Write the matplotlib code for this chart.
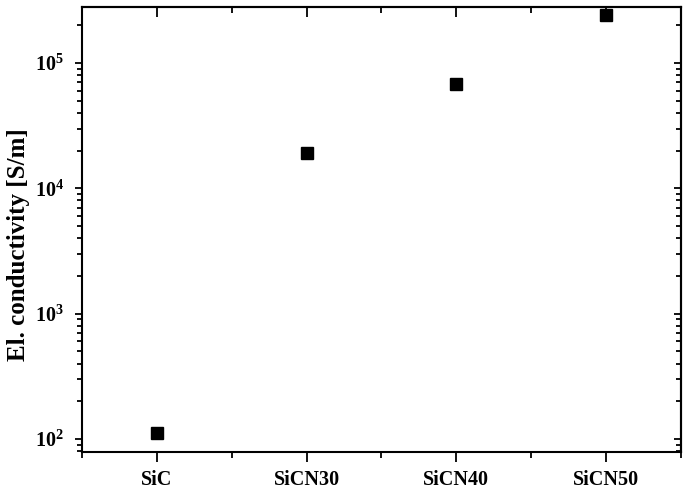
import numpy as np
import matplotlib
matplotlib.use("Agg")
import matplotlib.pyplot as plt
from matplotlib.ticker import LogLocator, FuncFormatter, NullFormatter, MultipleLocator

samples = ["SiC", "SiCN30", "SiCN40", "SiCN50"]
conductivity = [112, 1.9e4, 6.8e4, 2.42e5]

plt.rcParams["font.family"] = ["Liberation Serif", "DejaVu Serif"]
plt.rcParams["font.weight"] = "bold"
plt.rcParams["mathtext.fontset"] = "custom"
plt.rcParams["mathtext.bf"] = "Liberation Serif:bold"
plt.rcParams["mathtext.rm"] = "Liberation Serif:bold"

fig = plt.figure(figsize=(6.83, 4.93), dpi=100)
ax = fig.add_axes([0.120, 0.083, 0.877, 0.903])

x = np.arange(len(samples))
ax.plot(x, conductivity, "s", color="black", markersize=9)

ax.set_yscale("log")
ax.set_ylim(78.7, 2.8e5)
ax.set_xlim(-0.5, 3.5)

ax.set_xticks(x)
ax.set_xticklabels(samples, fontsize=14.5, fontweight="bold")
ax.xaxis.set_minor_locator(MultipleLocator(0.5))
ax.yaxis.set_major_locator(LogLocator(base=10))
ax.yaxis.set_minor_locator(LogLocator(base=10, subs=np.arange(2, 10)))
ax.yaxis.set_major_formatter(FuncFormatter(lambda v, p: r"$\mathbf{10^{%d}}$" % round(np.log10(v))))
ax.yaxis.set_minor_formatter(NullFormatter())
ax.tick_params(axis="y", labelsize=14.5)

ax.tick_params(axis="x", which="major", direction="out", length=7, width=1.3, pad=6)
ax.tick_params(axis="x", which="minor", direction="out", length=4, width=1.3)
ax.tick_params(axis="y", which="major", direction="out", length=5, width=1.3, pad=8)
ax.tick_params(axis="y", which="minor", direction="out", length=3.5, width=1.3)

for s in ax.spines.values():
    s.set_linewidth(1.5)

top = ax.secondary_xaxis("top")
top.set_xticks(x)
top.xaxis.set_minor_locator(MultipleLocator(0.5))
top.tick_params(which="major", direction="in", length=7, width=1.3, labeltop=False)
top.tick_params(which="minor", direction="in", length=4, width=1.3)
top.spines["top"].set_linewidth(1.5)

right = ax.secondary_yaxis("right")
right.set_yscale("log")
right.yaxis.set_major_locator(LogLocator(base=10))
right.yaxis.set_minor_locator(LogLocator(base=10, subs=np.arange(2, 10)))
right.tick_params(which="major", direction="in", length=5, width=1.3, labelright=False)
right.tick_params(which="minor", direction="in", length=3.5, width=1.3)
right.spines["right"].set_linewidth(1.5)

ax.set_ylabel("El. conductivity [S/m]", fontsize=18, fontweight="bold")
ax.yaxis.set_label_coords(-0.086, 0.465)

fig.savefig("out.png", dpi=100)
